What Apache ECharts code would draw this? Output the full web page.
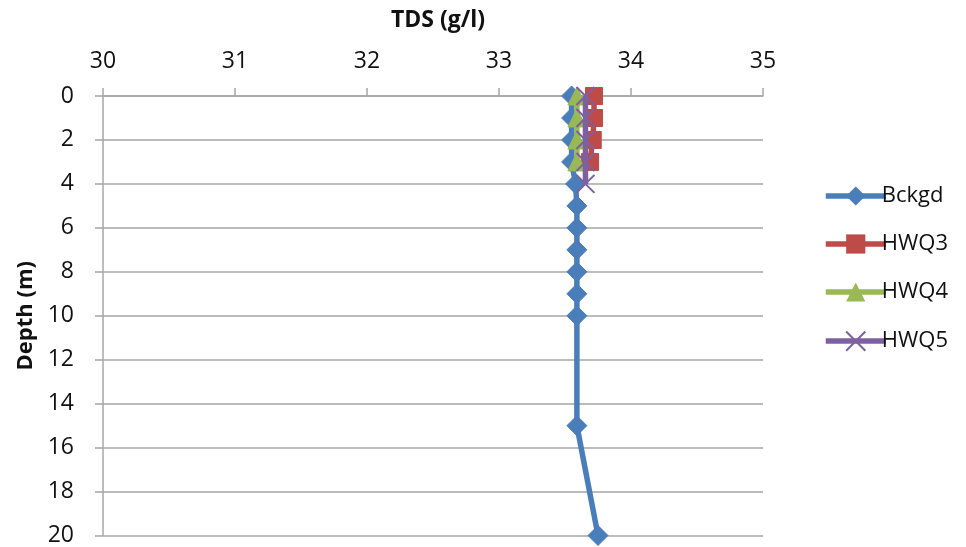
<!DOCTYPE html>
<html>
<head>
<meta charset="utf-8">
<script src="https://cdn.jsdelivr.net/npm/echarts@6/dist/echarts.min.js"></script>
<style>html,body{margin:0;padding:0;background:#fff}#chart{width:966px;height:547px}</style>
</head>
<body>
<div id="chart"></div>
<script>
// TDS profiles (g/l) against depth (m)
const bckgdDepth = [0, 1, 2, 3, 4, 5, 6, 7, 8, 9, 10, 15, 20];
const bckgdTds   = [33.55, 33.55, 33.55, 33.55, 33.58, 33.59, 33.59, 33.59, 33.59, 33.59, 33.59, 33.59, 33.75];
const hwq3Depth = [0, 1, 2, 3];
const hwq3Tds   = [33.72, 33.72, 33.71, 33.69];
const hwq4Depth = [0, 1, 2, 3];
const hwq4Tds   = [33.59, 33.59, 33.59, 33.59];
const hwq5Depth = [0, 1, 2, 3, 4];
const hwq5Tds   = [33.655, 33.655, 33.655, 33.655, 33.655];
const xTicks = [30, 31, 32, 33, 34, 35];

const pairs = (xs, ys) => xs.map((x, i) => [x, ys[i]]);
const font = 'Open Sans';
const axisGrey = '#a6a6a6';

const mk = (name, color, symbol, size, xs, ys, z) => ({
  name, type: 'line', data: pairs(xs, ys), z,
  symbol, symbolSize: size,
  lineStyle: { color, width: 5.5 },
  itemStyle: { color, borderColor: color },
  emphasis: { disabled: true },
  animation: false
});

const chart = echarts.init(document.getElementById('chart'));
chart.setOption({
  animation: false,
  grid: { left: 103, right: 203, top: 96, bottom: 10 },
  title: {
    text: 'TDS (g/l)', left: 433, top: 4, textAlign: 'center',
    textStyle: { fontFamily: font, fontWeight: 'bold', fontSize: 23, color: '#111' }
  },
  legend: {
    orient: 'vertical', left: 818, top: 180, itemGap: 26,
    itemWidth: 60, itemHeight: 24,
    lineStyle: { width: 5.5 },
    textStyle: { fontFamily: font, fontSize: 22, color: '#111', padding: [0, 0, 0, -9] },
    data: ['Bckgd', 'HWQ3', 'HWQ4', 'HWQ5']
  },
  xAxis: {
    type: 'value', position: 'top', min: xTicks[0], max: xTicks[xTicks.length - 1], interval: 1,
    axisLine: { show: true, lineStyle: { color: axisGrey, width: 1.5 } },
    axisTick: { show: true, inside: false, length: 8, lineStyle: { color: axisGrey, width: 1.5 } },
    axisLabel: { fontFamily: font, fontSize: 23, color: '#111', margin: 23 },
    splitLine: { show: false }
  },
  yAxis: {
    type: 'value', inverse: true, min: 0, max: 20, interval: 2,
    name: 'Depth (m)', nameLocation: 'middle', nameGap: 66, nameRotate: 90,
    nameTextStyle: { fontFamily: font, fontWeight: 'bold', fontSize: 22, color: '#111' },
    axisLine: { show: true, lineStyle: { color: axisGrey, width: 1.5 } },
    axisTick: { show: true, inside: false, length: 8, lineStyle: { color: axisGrey, width: 1.5 } },
    axisLabel: { fontFamily: font, fontSize: 23, color: '#111', margin: 29 },
    splitLine: { show: true, lineStyle: { color: axisGrey, width: 1.5 } }
  },
  series: [
    mk('Bckgd', '#4a7ebb', 'diamond', 20, bckgdTds, bckgdDepth, 2),
    mk('HWQ3', '#be4b48', 'rect', 17, hwq3Tds, hwq3Depth, 3),
    mk('HWQ4', '#98b954', 'triangle', 18, hwq4Tds, hwq4Depth, 4),
    Object.assign(mk('HWQ5', '#7d60a0', 'path://M0,0L10,10M10,0L0,10', 18, hwq5Tds, hwq5Depth, 5),
      { itemStyle: { color: 'none', borderColor: '#7d60a0', borderWidth: 2 } })
  ]
});
</script>
</body>
</html>
